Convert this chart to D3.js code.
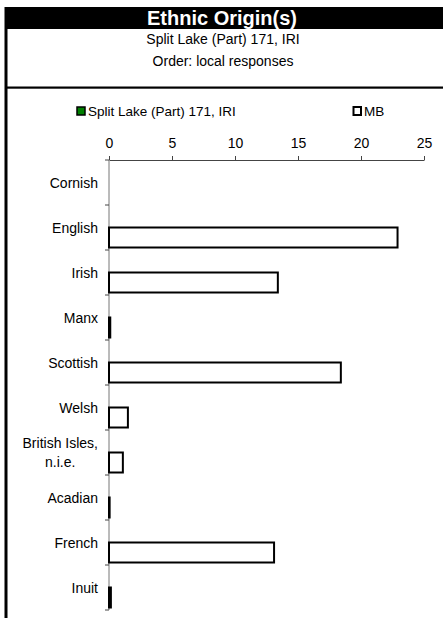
<!DOCTYPE html>
<html>
<head>
<meta charset="utf-8">
<script src="https://cdn.jsdelivr.net/npm/d3@7"></script>
<style>
  html, body { margin: 0; padding: 0; background: #fff; }
  svg { display: block; }
  text { font-family: "Liberation Sans", Arial, sans-serif; }
</style>
</head>
<body>
<svg id="chart" width="443" height="618"></svg>
<script>
const title = "Ethnic Origin(s)";
const subtitle1 = "Split Lake (Part) 171, IRI";
const subtitle2 = "Order: local responses";
const seriesNames = ["Split Lake (Part) 171, IRI", "MB"];
const categories = ["Cornish", "English", "Irish", "Manx", "Scottish", "Welsh", "British Isles, n.i.e.", "Acadian", "French", "Inuit"];
const categoryLines = [["Cornish"], ["English"], ["Irish"], ["Manx"], ["Scottish"], ["Welsh"], ["British Isles,", "n.i.e."], ["Acadian"], ["French"], ["Inuit"]];
const splitLakeValues = [0, 0, 0, 0, 0, 0, 0, 0, 0, 0];
const mbValues = [0, 22.9, 13.4, 0.1, 18.4, 1.5, 1.1, 0.05, 13.1, 0.15];
const xTicks = [0, 5, 10, 15, 20, 25];

const svg = d3.select("#chart");
const W = 443;

// frame
svg.append("rect").attr("x", 5).attr("y", 7).attr("width", W - 5).attr("height", 22).attr("fill", "#000");
svg.append("rect").attr("x", 4.5).attr("y", 7).attr("width", 3).attr("height", 611).attr("fill", "#000");
svg.append("rect").attr("x", 5).attr("y", 86.5).attr("width", W - 5).attr("height", 2.2).attr("fill", "#000");

svg.append("text").attr("x", 222).attr("y", 25).attr("text-anchor", "middle")
  .attr("fill", "#fff").attr("font-weight", "bold").attr("font-size", 20).text(title);
svg.append("text").attr("x", 223).attr("y", 44).attr("text-anchor", "middle")
  .attr("font-size", 14).text(subtitle1);
svg.append("text").attr("x", 223).attr("y", 66).attr("text-anchor", "middle")
  .attr("font-size", 14).text(subtitle2);

// scales
const x = d3.scaleLinear().domain([0, 25]).range([109, 424]);
const y = d3.scaleBand().domain(categories).range([160, 610]).paddingInner(0).paddingOuter(0);
const ySub = d3.scaleBand().domain(seriesNames).range([0, y.bandwidth()]).paddingInner(0).paddingOuter(0.125);

// legend
const legend = svg.append("g");
legend.append("rect").attr("x", 77).attr("y", 107).attr("width", 8).attr("height", 8)
  .attr("fill", "#008000").attr("stroke", "#000").attr("stroke-width", 1.5);
legend.append("text").attr("x", 88).attr("y", 116).attr("font-size", 13.5).text(seriesNames[0]);
legend.append("rect").attr("x", 353.5).attr("y", 107).attr("width", 7.5).attr("height", 8)
  .attr("fill", "#fff").attr("stroke", "#000").attr("stroke-width", 2);
legend.append("text").attr("x", 364).attr("y", 116).attr("font-size", 13.5).text(seriesNames[1]);

// x axis (top)
const xAxis = svg.append("g").attr("transform", "translate(0,160)")
  .call(d3.axisTop(x).tickValues(xTicks).tickSize(4).tickPadding(8).tickSizeOuter(0));
xAxis.select(".domain").attr("stroke", "#444");
xAxis.selectAll(".tick line").attr("stroke", "#444");
xAxis.selectAll(".tick text").attr("font-size", 14).attr("fill", "#000");

// y axis (left) with ticks at band boundaries
const yAxisG = svg.append("g");
yAxisG.append("line").attr("x1", x(0)).attr("x2", x(0)).attr("y1", 160).attr("y2", 610)
  .attr("stroke", "#777").attr("stroke-width", 1);
const boundaries = categories.map(c => y(c)).concat([y(categories[categories.length - 1]) + y.bandwidth()]);
yAxisG.selectAll("line.tk").data(boundaries).join("line").attr("class", "tk")
  .attr("x1", x(0) - 4).attr("x2", x(0)).attr("y1", d => d).attr("y2", d => d)
  .attr("stroke", "#444").attr("stroke-width", 1);

// category labels
categories.forEach((c, i) => {
  const lines = categoryLines[i];
  const cy = y(c) + y.bandwidth() / 2;
  const g = svg.append("g");
  const lh = 19.5;
  const texts = lines.map((ln, j) => g.append("text")
    .attr("y", cy + (j - (lines.length - 1) / 2) * lh + 5)
    .attr("font-size", 14).attr("text-anchor", "middle").text(ln));
  const widths = texts.map(t => t.node().getComputedTextLength());
  const maxW = Math.max(...widths);
  const cx = 98 - maxW / 2;
  texts.forEach(t => t.attr("x", cx));
});

// bars
const seriesData = [splitLakeValues, mbValues];
const fills = ["#008000", "#fff"];
seriesData.forEach((vals, s) => {
  svg.append("g").selectAll("rect").data(vals).join("rect")
    .attr("x", x(0))
    .attr("y", (d, i) => y(categories[i]) + ySub(seriesNames[s]))
    .attr("width", d => x(d) - x(0))
    .attr("height", ySub.bandwidth())
    .attr("fill", fills[s]).attr("stroke", "#000").attr("stroke-width", 2);
});
</script>
</body>
</html>
